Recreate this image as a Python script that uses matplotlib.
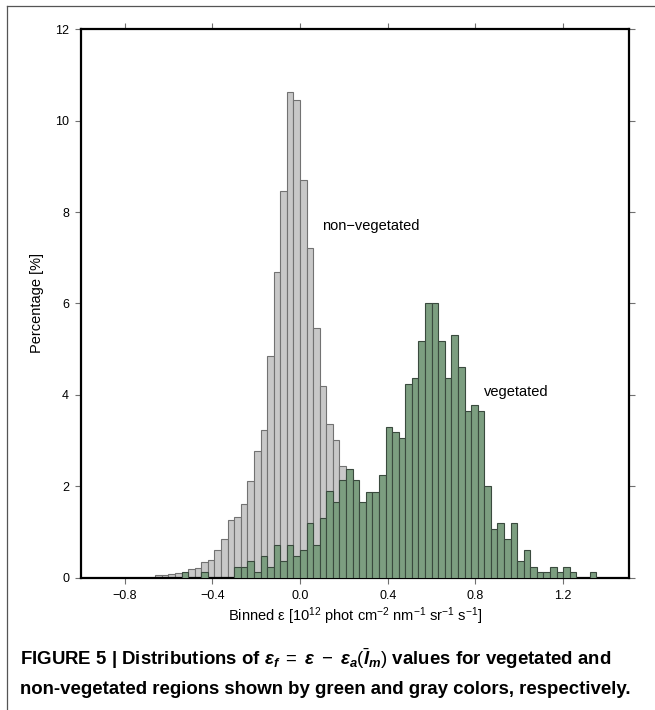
import numpy as np
import matplotlib
matplotlib.use("Agg")
import matplotlib.pyplot as plt
from matplotlib.lines import Line2D

plt.rcParams['font.family'] = ['Liberation Sans', 'DejaVu Sans']
plt.rcParams['mathtext.fontset'] = 'custom'
plt.rcParams['mathtext.rm'] = 'Liberation Sans'
plt.rcParams['mathtext.it'] = 'Liberation Sans:italic:bold'
plt.rcParams['mathtext.bf'] = 'Liberation Sans:bold'

# histogram data, percentage per bin; bins are 0.03 wide, edges at k*0.03
bin_width = 0.03

gray_first_bin = -22
gray_pct = [0.05, 0.05, 0.07, 0.09, 0.10, 0.18, 0.21, 0.33, 0.38, 0.60,
            0.84, 1.27, 1.33, 1.61, 2.11, 2.77, 3.23, 4.85, 6.69, 8.47,
            10.62, 10.45, 8.71, 7.21, 5.46, 4.19, 3.36, 3.01, 2.44,
            # tail hidden behind the green bars (estimated)
            2.20, 1.80, 1.50, 1.20, 0.90, 0.60, 0.40, 0.30, 0.20]

green_first_bin = -18
green_pct = [0.11, 0.00, 0.00, 0.11, 0.00, 0.00, 0.00, 0.00, 0.24, 0.24,
             0.36, 0.12, 0.47, 0.24, 0.71, 0.36, 0.71, 0.47, 0.60, 1.19,
             0.71, 1.30, 1.89, 1.65, 2.14, 2.37, 2.14, 1.65, 1.88, 1.88,
             2.25, 3.29, 3.19, 3.06, 4.23, 4.36, 5.18, 6.01, 6.01, 5.18,
             4.36, 5.31, 4.60, 3.65, 3.78, 3.65, 2.00, 1.06, 1.19, 0.84,
             1.19, 0.36, 0.60, 0.24, 0.12, 0.12, 0.24, 0.12, 0.24, 0.12,
             0.00, 0.00, 0.12]

x_ticks = [-0.8, -0.4, 0.0, 0.4, 0.8, 1.2]
y_ticks = [0, 2, 4, 6, 8, 10, 12]

gray_left = (gray_first_bin + np.arange(len(gray_pct))) * bin_width
green_left = (green_first_bin + np.arange(len(green_pct))) * bin_width

fig = plt.figure(figsize=(6.55, 7.1), dpi=100)
ax = fig.add_axes([0.1232, 0.1866, 0.8371, 0.7719])

ax.bar(gray_left, gray_pct, width=bin_width, align='edge',
       color='#c8c8c8', edgecolor='#727272', linewidth=0.8, zorder=2)
ax.bar(green_left, green_pct, width=bin_width, align='edge',
       color='#7c9e80', edgecolor='#3a4a3e', linewidth=0.8, zorder=3)

ax.set_xlim(-1.0, 1.5)
ax.set_ylim(0, 12)
ax.set_xticks(x_ticks)
ax.set_xticklabels(['\u22120.8', '\u22120.4', '0.0', '0.4', '0.8', '1.2'])
ax.set_yticks(y_ticks)
ax.tick_params(top=True, right=True, direction='out', length=4.3, width=0.8,
               color='#707070', labelsize=9, pad=4)
ax.tick_params(axis='x', pad=5)
for s in ax.spines.values():
    s.set_linewidth(1.6)
    s.set_color('black')

ax.set_ylabel('Percentage [%]', fontsize=10.5, labelpad=8)
ax.set_xlabel('Binned \u03b5 [10$^{12}$ phot cm$^{-2}$ nm$^{-1}$ sr$^{-1}$ s$^{-1}$]',
              fontsize=10.5, labelpad=2)

ax.text(0.10, 7.7, 'non\u2212vegetated', fontsize=10.5, va='center', ha='left')
ax.text(0.84, 4.06, 'vegetated', fontsize=10.5, va='center', ha='left')

# frame lines of the figure panel
fig.add_artist(Line2D([7 / 655, 1.0], [1 - 6 / 710, 1 - 6 / 710],
                      transform=fig.transFigure, color='#555555', lw=0.9))
fig.add_artist(Line2D([7 / 655, 7 / 655], [0.0, 1 - 6 / 710],
                      transform=fig.transFigure, color='#555555', lw=0.9))

fig.text(20 / 655, 1 - 665 / 710,
         r'FIGURE 5 | Distributions of $\varepsilon_f\;=\;\varepsilon\;-\;\varepsilon_a(\bar{l}_m)$ values for vegetated and',
         fontsize=13.4, fontweight='bold', va='baseline', ha='left')
fig.text(20 / 655, 1 - 694 / 710,
         'non-vegetated regions shown by green and gray colors, respectively.',
         fontsize=13.4, fontweight='bold', va='baseline', ha='left')

fig.savefig('out.png', dpi=100)
